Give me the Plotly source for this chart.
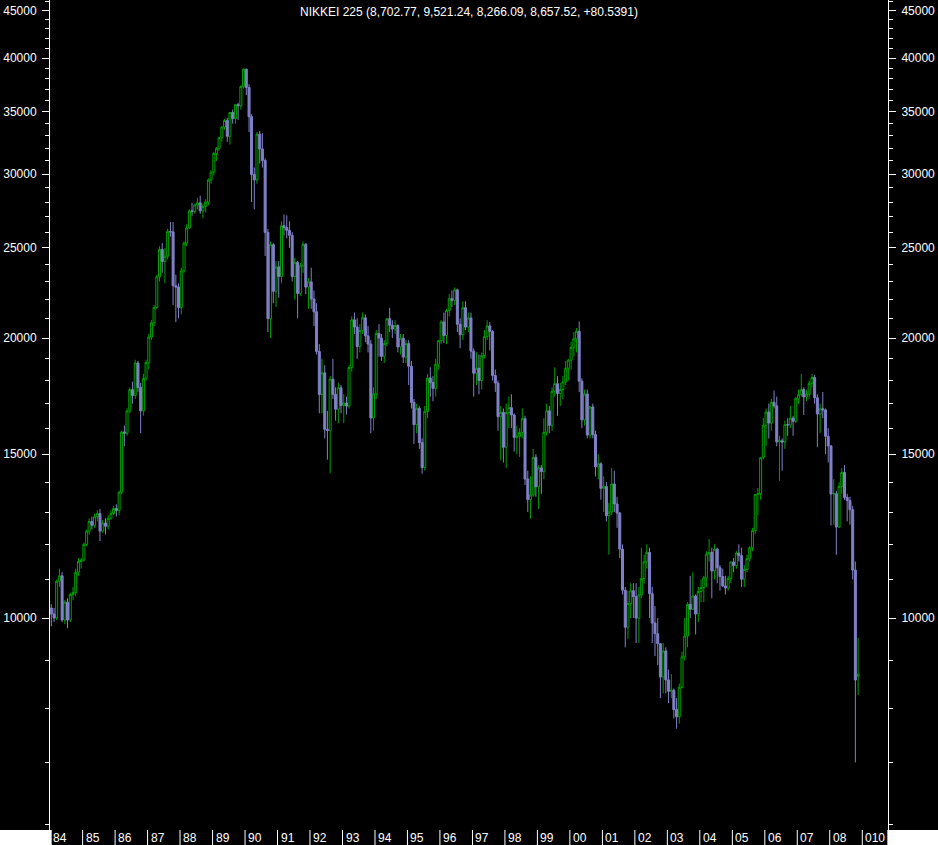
import plotly.graph_objects as go

# ---------------- data (monthly OHLC, Jan 1984 .. Nov 2008) ----------------
open_ = [
    10250, 10100, 10000, 10950, 11100, 9950, 10400, 9950, 10600, 10650, 11200, 11500,
    11543, 12000, 12400, 12700, 12580, 12850, 12950, 12400, 12650, 12550, 12800, 12950,
    13113, 13050, 13650, 15850, 15800, 16700, 17600, 17350, 18800, 17700, 16700, 18100,
    18820, 20048, 20767, 21566, 23274, 24902, 24176, 24488, 26029, 26011, 22765, 22686,
    21564, 23622, 25300, 26260, 27400, 27350, 27800, 27950, 27400, 27700, 28000, 29580,
    30159, 31581, 31985, 32838, 33713, 34266, 32948, 34954, 34431, 35636, 35549, 37268,
    38916, 37189, 34592, 29980, 29585, 33131, 31940, 31036, 25978, 20984, 25194, 22455,
    23849, 23293, 26409, 26292, 26111, 25790, 23291, 24120, 22335, 23916, 25222, 22687,
    22984, 22023, 21339, 19346, 17391, 18347, 15952, 15910, 18061, 17399, 16767, 17684,
    16925, 17024, 16900, 18591, 20919, 20552, 19590, 20380, 21027, 20106, 19703, 16408,
    17417, 20229, 19997, 19112, 19725, 20974, 20643, 20449, 20629, 19564, 19990, 19076,
    19723, 18650, 17053, 16140, 16807, 15437, 14517, 16678, 18117, 17913, 17655, 18744,
    19868, 20813, 20125, 21407, 22041, 21956, 22531, 20692, 20167, 21556, 20550, 21020,
    19361, 18330, 18557, 18003, 19151, 20069, 20605, 20331, 18229, 17888, 16459, 16636,
    15259, 16628, 16832, 16527, 15641, 15671, 15830, 16379, 14108, 13406, 13564, 14883,
    13842, 14499, 14368, 15837, 16701, 16112, 17530, 17862, 17437, 17605, 17943, 18558,
    18934, 19540, 19960, 20337, 17974, 16332, 17411, 15728, 16861, 15747, 14539, 14649,
    13786, 13843, 12883, 12999, 13934, 13262, 12969, 11860, 10713, 9774, 10366, 10697,
    10543, 9997, 10587, 11025, 11493, 11764, 10621, 9877, 9619, 9383, 8640, 9216,
    8579, 8340, 8363, 7973, 7831, 8425, 9083, 9563, 10344, 10219, 10560, 10101,
    10677, 10784, 11042, 11715, 11762, 11236, 11859, 11326, 11082, 10824, 10771, 11030,
    11489, 11388, 11741, 11668, 11009, 11277, 11584, 11900, 12414, 13574, 13607, 14872,
    16111, 16650, 16205, 17060, 16906, 15468, 15506, 15457, 16141, 16128, 16399, 16274,
    17226, 17383, 17604, 17288, 17400, 17876, 18138, 17249, 16569, 16786, 16737, 15681,
    15308, 13592, 13603, 12526, 13850, 14339, 13481, 13377, 13073, 11260, 8702.77,
]
high = [
    10350, 10250, 11000, 11300, 11200, 10450, 10500, 10650, 10800, 11300, 11600, 11600,
    12050, 12450, 12800, 12850, 12950, 13050, 13100, 12750, 12800, 12900, 13050, 13200,
    13250, 13700, 15900, 16100, 16800, 17700, 17950, 18950, 18900, 17900, 18300, 18950,
    20200, 20900, 21700, 23400, 25100, 25300, 25000, 26200, 26650, 26650, 23400, 22900,
    23800, 25400, 26500, 27500, 27950, 27900, 28300, 28450, 27900, 28200, 29700, 30300,
    31700, 32100, 32900, 33800, 34400, 34500, 35000, 35200, 35700, 35800, 37400, 38957,
    38950, 37500, 34800, 30500, 33300, 33400, 33200, 31200, 26200, 25400, 25300, 24200,
    24200, 26700, 27150, 27100, 26700, 26000, 24400, 24200, 24100, 25400, 25300, 23200,
    23800, 22500, 21800, 19700, 19000, 18700, 16700, 18200, 19000, 17700, 17900, 17800,
    17400, 17300, 18700, 21100, 21300, 21000, 20700, 21300, 21200, 20600, 19900, 17700,
    20400, 20700, 20200, 19900, 21000, 21550, 20900, 20900, 20700, 20200, 20200, 19900,
    19900, 18900, 17200, 17000, 16900, 15600, 16900, 18300, 18600, 18200, 19000, 19900,
    20900, 21300, 21500, 22300, 22500, 22666, 22600, 21000, 21900, 21900, 21300, 21300,
    19500, 19300, 19200, 19300, 20400, 20900, 20800, 20400, 18500, 18000, 16900, 16800,
    17000, 17300, 17400, 16600, 16100, 16000, 16800, 16500, 14400, 14200, 15200, 15000,
    14600, 14600, 16400, 17000, 16900, 17700, 18600, 18200, 17900, 18200, 18900, 19000,
    19800, 20300, 20500, 20833, 18100, 17600, 17600, 16900, 17000, 15900, 15000, 14700,
    14200, 14000, 13300, 14500, 14400, 13500, 13000, 12000, 10800, 10700, 10900, 10900,
    10900, 10800, 11900, 11700, 12000, 11900, 10800, 10300, 10000, 9400, 9400, 9300,
    8800, 8700, 8400, 8200, 8500, 9200, 10000, 10400, 11100, 11200, 10600, 10800,
    11000, 11100, 11800, 12163, 11900, 12000, 11900, 11400, 11300, 11100, 11100, 11500,
    11600, 11800, 12000, 11900, 11400, 11700, 11950, 12500, 13600, 13800, 14900, 16400,
    16800, 17000, 17200, 17563, 17300, 15700, 15600, 16300, 16400, 16900, 16500, 17300,
    17600, 18300, 17700, 17600, 18000, 18300, 18262, 17400, 17000, 17500, 16800, 16000,
    15350, 14100, 13700, 14000, 14490, 14600, 13600, 13500, 13200, 11500, 9521.24,
]
low = [
    9800, 9900, 9950, 10800, 9900, 9850, 9750, 9900, 10450, 10550, 11100, 11300,
    11500, 11950, 12300, 12450, 12500, 12700, 12100, 12350, 12300, 12450, 12750, 12900,
    12850, 12900, 13600, 15300, 15700, 16600, 17000, 17200, 17500, 15800, 16500, 18000,
    18500, 19900, 20600, 21500, 23000, 23500, 22900, 24300, 25700, 21700, 20800, 21000,
    21200, 23500, 25100, 26200, 27050, 27200, 27500, 27200, 26900, 27300, 27800, 29300,
    29900, 31000, 31800, 32500, 33500, 32500, 32300, 34000, 34000, 34300, 35200, 37100,
    36500, 33300, 28000, 27500, 29300, 30800, 30500, 24500, 20300, 20000, 21800, 21600,
    22100, 22900, 25800, 25600, 25000, 23000, 22000, 21000, 22200, 23500, 22300, 21500,
    21500, 20600, 19200, 16600, 16600, 15600, 14800, 14309, 17200, 16300, 16200, 16600,
    16200, 16550, 16800, 18400, 20200, 19000, 19300, 20200, 19800, 19300, 15800, 15900,
    17200, 19100, 18900, 18800, 19600, 20300, 20000, 20200, 19300, 19200, 18800, 18800,
    17800, 16800, 15381, 15800, 15200, 14295, 14400, 16400, 17300, 17100, 17300, 18500,
    19700, 19750, 19700, 21100, 21600, 21700, 20300, 19500, 19900, 20400, 20300, 19000,
    17300, 17800, 17400, 17600, 19000, 19900, 19400, 18000, 17500, 15900, 14775, 14700,
    14500, 16000, 16000, 15100, 15000, 14900, 15600, 13900, 13000, 12787, 13500, 13500,
    13100, 13600, 14100, 15700, 15800, 15900, 17300, 16500, 16900, 17200, 17800, 18000,
    18500, 19100, 19300, 17500, 16000, 16100, 15600, 15600, 15600, 14200, 14100, 13400,
    13000, 12700, 11700, 12900, 13000, 12500, 11600, 10600, 9300, 9500, 10000, 10000,
    9400, 9400, 10500, 10900, 11300, 10000, 9400, 9100, 8900, 8200, 8300, 8300,
    8100, 8200, 7800, 7604, 7700, 8400, 9000, 9300, 10000, 10200, 9600, 9900,
    10400, 10400, 10800, 11500, 10500, 11000, 10900, 10700, 10800, 10600, 10700, 10900,
    11200, 11300, 11500, 10800, 10800, 11200, 11500, 11800, 12300, 12900, 13400, 14800,
    15300, 15600, 15900, 16800, 15300, 14045, 14400, 15200, 15700, 16000, 15700, 16200,
    17000, 17300, 16532, 17100, 17200, 17700, 17000, 15262, 15800, 16400, 15000, 14700,
    12573, 12600, 11691, 12500, 13600, 13400, 12700, 12600, 11000, 6995, 8266.09,
]
close = [
    10100, 10000, 10950, 11100, 9950, 10400, 9950, 10600, 10650, 11200, 11500, 11543,
    12000, 12400, 12700, 12580, 12850, 12950, 12400, 12650, 12550, 12800, 12950, 13113,
    13050, 13650, 15850, 15800, 16700, 17600, 17350, 18800, 17700, 16700, 18100, 18820,
    20048, 20767, 21566, 23274, 24902, 24176, 24488, 26029, 26011, 22765, 22686, 21564,
    23622, 25300, 26260, 27400, 27350, 27800, 27950, 27400, 27700, 28000, 29580, 30159,
    31581, 31985, 32838, 33713, 34266, 32948, 34954, 34431, 35636, 35549, 37268, 38916,
    37189, 34592, 29980, 29585, 33131, 31940, 31036, 25978, 20984, 25194, 22455, 23849,
    23293, 26409, 26292, 26111, 25790, 23291, 24120, 22335, 23916, 25222, 22687, 22984,
    22023, 21339, 19346, 17391, 18347, 15952, 15910, 18061, 17399, 16767, 17684, 16925,
    17024, 16900, 18591, 20919, 20552, 19590, 20380, 21027, 20106, 19703, 16408, 17417,
    20229, 19997, 19112, 19725, 20974, 20643, 20449, 20629, 19564, 19990, 19076, 19723,
    18650, 17053, 16140, 16807, 15437, 14517, 16678, 18117, 17913, 17655, 18744, 19868,
    20813, 20125, 21407, 22041, 21956, 22531, 20692, 20167, 21556, 20550, 21020, 19361,
    18330, 18557, 18003, 19151, 20069, 20605, 20331, 18229, 17888, 16459, 16636, 15259,
    16628, 16832, 16527, 15641, 15671, 15830, 16379, 14108, 13406, 13564, 14883, 13842,
    14499, 14368, 15837, 16701, 16112, 17530, 17862, 17437, 17605, 17943, 18558, 18934,
    19540, 19960, 20337, 17974, 16332, 17411, 15728, 16861, 15747, 14539, 14649, 13786,
    13843, 12883, 12999, 13934, 13262, 12969, 11860, 10713, 9774, 10366, 10697, 10543,
    9997, 10587, 11025, 11493, 11764, 10621, 9877, 9619, 9383, 8640, 9216, 8579,
    8340, 8363, 7973, 7831, 8425, 9083, 9563, 10344, 10219, 10560, 10101, 10677,
    10784, 11042, 11715, 11762, 11236, 11859, 11326, 11082, 10824, 10771, 11030, 11489,
    11388, 11741, 11668, 11009, 11277, 11584, 11900, 12414, 13574, 13607, 14872, 16111,
    16650, 16205, 17060, 16906, 15468, 15506, 15457, 16141, 16128, 16399, 16274, 17226,
    17383, 17604, 17288, 17400, 17876, 18138, 17249, 16569, 16786, 16737, 15681, 15308,
    13592, 13603, 12526, 13850, 14339, 13481, 13377, 13073, 11260, 8577, 8657.52,
]
assert len(open_) == len(high) == len(low) == len(close) == 299, (len(open_), len(high), len(low), len(close))

months = [f"{1984 + k // 12}-{k % 12 + 1:02d}-15" for k in range(len(close))]

year_ticks = [f"{y}-01-01" for y in range(1984, 2010)]
year_labels = ["84", "85", "86", "87", "88", "89", "90", "91", "92", "93", "94", "95", "96",
               "97", "98", "99", "00", "01", "02", "03", "04", "05", "06", "07", "08", "010"]

ytick_vals = [10000, 15000, 20000, 25000, 30000, 35000, 40000, 45000]
ytick_text = ["10000", "15000", "20000", "25000", "30000", "35000", "40000", "45000"]
yminor_vals = [v for v in range(6000, 47000, 1000) if v not in ytick_vals]

title_text = "NIKKEI 225 (8,702.77, 9,521.24, 8,266.09, 8,657.52, +80.5391)"

GREEN = "#00a000"
BLUE = "#8080c8"

# colour by close versus previous close
prev_close = [open_[0]] + close[:-1]
up = [c >= p for c, p in zip(close, prev_close)]


def subset(flag):
    idx = [k for k in range(len(close)) if up[k] == flag]
    return ([months[k] for k in idx], [open_[k] for k in idx], [high[k] for k in idx],
            [low[k] for k in idx], [close[k] for k in idx])


fig = go.Figure()
for flag, col, fill in [(True, GREEN, "black"), (False, BLUE, BLUE)]:
    x, o, h, l, c = subset(flag)
    fig.add_trace(go.Candlestick(
        x=x, open=o, high=h, low=l, close=c,
        increasing=dict(line=dict(color=col, width=1), fillcolor=fill),
        decreasing=dict(line=dict(color=col, width=1), fillcolor=fill),
        whiskerwidth=0, hoverinfo="skip", showlegend=False,
    ))

# invisible helper so the right-hand axis is drawn
fig.add_trace(go.Scatter(x=[months[0]], y=[close[0]], yaxis="y2", mode="markers",
                         marker=dict(opacity=0), hoverinfo="skip", showlegend=False))

axis_font = dict(family="Liberation Sans, Arial, sans-serif", size=12, color="white")
yax = dict(
    type="log", range=[3.77207, 4.66445], autorange=False,
    showgrid=False, zeroline=False, showline=True, linecolor="white", linewidth=1,
    ticks="outside", ticklen=7, tickwidth=1, tickcolor="white",
    tickvals=ytick_vals, ticktext=ytick_text, tickfont=axis_font,
    minor=dict(tickvals=yminor_vals, ticks="outside", ticklen=4, tickwidth=1,
               tickcolor="white", showgrid=False),
    ticklabelstandoff=3, fixedrange=True,
)

shapes = [
    dict(type="rect", xref="paper", yref="paper", x0=-0.1, x1=0.002, y0=-0.0185, y1=0,
         fillcolor="white", line=dict(width=0), layer="above"),
    dict(type="rect", xref="paper", yref="paper", x0=0.9992, x1=1.1, y0=-0.0185, y1=0,
         fillcolor="white", line=dict(width=0), layer="above"),
]
for t in year_ticks:
    shapes.append(dict(type="line", xref="x", yref="paper", x0=t, x1=t, y0=-0.0185, y1=0,
                       line=dict(color="white", width=1), layer="above"))

annotations = [dict(x=0.5, y=1, xref="paper", yref="paper", xanchor="center", yanchor="top",
                    yshift=-3, text=title_text, showarrow=False, font=axis_font)]
for t, lab in zip(year_ticks, year_labels):
    annotations.append(dict(x=t, y=0, xref="x", yref="paper", xanchor="left", yanchor="top",
                            xshift=1, yshift=1, text=lab, showarrow=False, font=axis_font))

fig.update_layout(
    width=938, height=845,
    margin=dict(l=50, r=50, t=0, b=15, pad=0),
    paper_bgcolor="black", plot_bgcolor="black",
    showlegend=False, hovermode=False,
    font=axis_font,
    boxgap=0.2, boxgroupgap=0,
    xaxis=dict(type="date", range=["1983-12-31", "2009-10-17"], autorange=False,
               showgrid=False, zeroline=False, showticklabels=False, ticks="",
               showline=False, rangeslider=dict(visible=False), fixedrange=True),
    yaxis=dict(yax, side="left"),
    yaxis2=dict(yax, side="right", overlaying="y"),
    shapes=shapes,
    annotations=annotations,
)

fig.write_html("out.html", config={"displayModeBar": False},
               post_script="document.body.style.margin='0';document.body.style.background='black';")
